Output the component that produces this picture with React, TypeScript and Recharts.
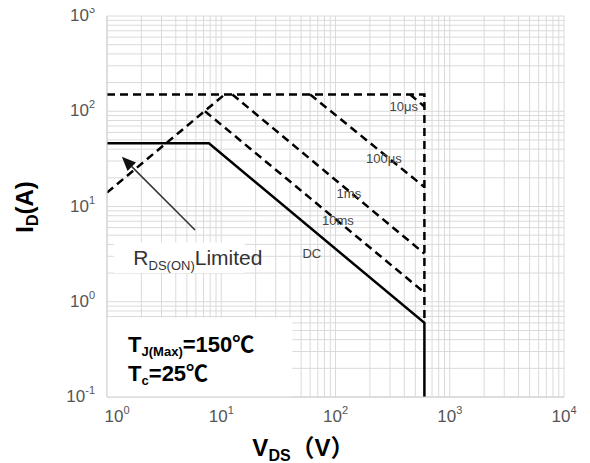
import React from "react";
import {
  ComposedChart,
  Line,
  XAxis,
  YAxis,
  CartesianGrid,
  ReferenceLine,
  ReferenceDot,
  ReferenceArea,
} from "recharts";

// decades and minor multipliers for the log grid
const xDecades = [1, 10, 100, 1000];
const yDecades = [0.1, 1, 10, 100];
const minorSteps = [1, 2, 3, 4, 5, 6, 7, 8, 9];

const xTicks = [...xDecades.flatMap((d) => minorSteps.map((m) => d * m)), 10000];
const yTicks = [...yDecades.flatMap((d) => minorSteps.map((m) => +(d * m).toPrecision(3))), 1000];

// SOA curves, VDS (V) vs ID (A)
const dcV = [1, 7.8, 600, 600];
const dcI = [46, 46, 0.6, 0.1];

const rdsV = [1, 10.7];
const rdsI = [14, 150];

const limitV = [1, 600, 600];
const limitI = [150, 150, 0.6];

const ms10V = [7.2, 600];
const ms10I = [100, 1.25];

const ms1V = [12.5, 600];
const ms1I = [150, 3.2];

const us100V = [60, 600];
const us100I = [150, 16];

const us10V = [450, 600];
const us10I = [150, 112];

const toPts = (v: number[], i: number[]) => v.map((x, k) => ({ v: x, i: i[k] }));

const dcData = toPts(dcV, dcI);
const rdsData = toPts(rdsV, rdsI);
const limitData = toPts(limitV, limitI);
const ms10Data = toPts(ms10V, ms10I);
const ms1Data = toPts(ms1V, ms1I);
const us100Data = toPts(us100V, us100I);
const us10Data = toPts(us10V, us10I);

// curve labels
const curveLabels = [
  { text: "10μs", v: 396, i: 113 },
  { text: "100μs", v: 265, i: 32 },
  { text: "1ms", v: 131, i: 13.9 },
  { text: "10ms", v: 105, i: 7.2 },
  { text: "DC", v: 62, i: 3.25 },
];

const FONT = "'Liberation Sans', Arial, 'Noto Sans CJK SC', sans-serif";

const isDecade = (val: number) => {
  const e = Math.log10(val);
  return Math.abs(e - Math.round(e)) < 1e-6;
};

const XTick = (props: any) => {
  const { x, y, payload } = props;
  if (!isDecade(payload.value)) return null;
  const exp = Math.round(Math.log10(payload.value));
  return (
    <text x={x + (exp === 0 ? 10 : 0)} y={y + 25} textAnchor="middle" fill="#555" fontSize={17} fontFamily={FONT}>
      10
      <tspan dy={-8} fontSize={11}>
        {exp}
      </tspan>
    </text>
  );
};

const YTick = (props: any) => {
  const { x, y, payload } = props;
  if (!isDecade(payload.value)) return null;
  const exp = Math.round(Math.log10(payload.value));
  return (
    <text x={x - 12} y={y + 5} textAnchor="end" fill="#555" fontSize={17} fontFamily={FONT}>
      10
      <tspan dy={-8} fontSize={11}>
        {exp}
      </tspan>
    </text>
  );
};

const Arrow = (props: any) => {
  const { x1, y1, x2, y2 } = props;
  const ang = Math.atan2(y2 - y1, x2 - x1);
  const len = 14;
  const w = 6;
  const bx = x2 - len * Math.cos(ang);
  const by = y2 - len * Math.sin(ang);
  const px = -Math.sin(ang) * w;
  const py = Math.cos(ang) * w;
  return (
    <g>
      <line x1={x1} y1={y1} x2={bx} y2={by} stroke="#333" strokeWidth={1.5} />
      <polygon points={`${x2},${y2} ${bx + px},${by + py} ${bx - px},${by - py}`} fill="#111" />
    </g>
  );
};

const lineProps = {
  type: "linear" as const,
  dataKey: "i",
  stroke: "#000",
  strokeWidth: 2.5,
  dot: false,
  activeDot: false,
  isAnimationActive: false,
  legendType: "none" as const,
};

const dash = "8 5";

export default function App() {
  return (
    <div style={{ width: 582, height: 463, marginTop: -8 }}>
      <ComposedChart width={582} height={463} margin={{ top: 16, right: 26, bottom: 0, left: 0 }}>
        <CartesianGrid stroke="#dadada" strokeWidth={1} />
        <XAxis
          dataKey="v"
          type="number"
          scale="log"
          domain={[1, 10000]}
          ticks={xTicks}
          interval={0}
          allowDataOverflow
          height={66}
          tickSize={0}
          tickMargin={0}
          tickLine={false}
          axisLine={{ stroke: "#cfcfcf" }}
          tick={<XTick />}
          label={{
            content: (p: any) => {
              const vb = p.viewBox;
              return (
                <text x={vb.x + vb.width / 2 - 32} y={vb.y + 59} textAnchor="middle" fill="#000" fontSize={24} fontWeight="bold" fontFamily={FONT}>
                  V
                  <tspan dy={5} fontSize={16}>
                    DS
                  </tspan>
                  <tspan dy={-5}>（V）</tspan>
                </text>
              );
            },
          }}
        />
        <YAxis
          dataKey="i"
          type="number"
          scale="log"
          domain={[0.1, 1000]}
          ticks={yTicks}
          interval={0}
          allowDataOverflow
          width={99}
          tickSize={0}
          tickMargin={0}
          tickLine={false}
          axisLine={{ stroke: "#cfcfcf" }}
          tick={<YTick />}
          label={{
            content: () => (
              <text
                x={0}
                y={0}
                transform="translate(25,207) rotate(-90)"
                textAnchor="middle"
                fill="#000"
                fontSize={24}
                fontWeight="bold"
                fontFamily={FONT}
              >
                I
                <tspan dy={5} fontSize={16}>
                  D
                </tspan>
                <tspan dy={-5}>(A)</tspan>
              </text>
            ),
          }}
        />

        <ReferenceArea x1={1} x2={42} y1={0.1} y2={0.68} fill="#fff" fillOpacity={1} stroke="none" />
        <ReferenceArea x1={1.15} x2={16} y1={2.0} y2={4.2} fill="#fff" fillOpacity={1} stroke="none" />

        <Line {...lineProps} data={limitData} strokeDasharray={dash} />
        <Line {...lineProps} data={rdsData} strokeDasharray={dash} />
        <Line {...lineProps} data={ms10Data} strokeDasharray={dash} />
        <Line {...lineProps} data={ms1Data} strokeDasharray={dash} />
        <Line {...lineProps} data={us100Data} strokeDasharray={dash} />
        <Line {...lineProps} data={us10Data} strokeDasharray={dash} />
        <Line {...lineProps} data={dcData} />

        <ReferenceLine
          segment={[
            { x: 5.9, y: 5.66 },
            { x: 1.35, y: 33.3 },
          ]}
          shape={<Arrow />}
        />

        {curveLabels.map((c) => (
          <ReferenceDot
            key={c.text}
            x={c.v}
            y={c.i}
            r={0}
            shape={(p: any) => (
              <text x={p.cx} y={p.cy + 5} textAnchor="middle" fill="#444" fontSize={13} fontFamily={FONT}>
                {c.text}
              </text>
            )}
          />
        ))}

        <ReferenceDot
          x={1.7}
          y={2.85}
          r={0}
          shape={(p: any) => (
            <text x={p.cx} y={p.cy + 7} textAnchor="start" fill="#333" fontSize={21} fontFamily={FONT}>
              R
              <tspan dy={5} fontSize={13}>
                DS(ON)
              </tspan>
              <tspan dy={-5}>Limited</tspan>
            </text>
          )}
        />
        <ReferenceDot
          x={1.53}
          y={0.36}
          r={0}
          shape={(p: any) => (
            <text x={p.cx} y={p.cy + 8} textAnchor="start" fill="#000" fontSize={22} fontWeight="bold" fontFamily={FONT}>
              T
              <tspan dy={4} fontSize={13}>
                J(Max)
              </tspan>
              <tspan dy={-4}>=150℃</tspan>
            </text>
          )}
        />
        <ReferenceDot
          x={1.53}
          y={0.178}
          r={0}
          shape={(p: any) => (
            <text x={p.cx} y={p.cy + 8} textAnchor="start" fill="#000" fontSize={22} fontWeight="bold" fontFamily={FONT}>
              T
              <tspan dy={4} fontSize={13}>
                c
              </tspan>
              <tspan dy={-4}>=25℃</tspan>
            </text>
          )}
        />
      </ComposedChart>
    </div>
  );
}
